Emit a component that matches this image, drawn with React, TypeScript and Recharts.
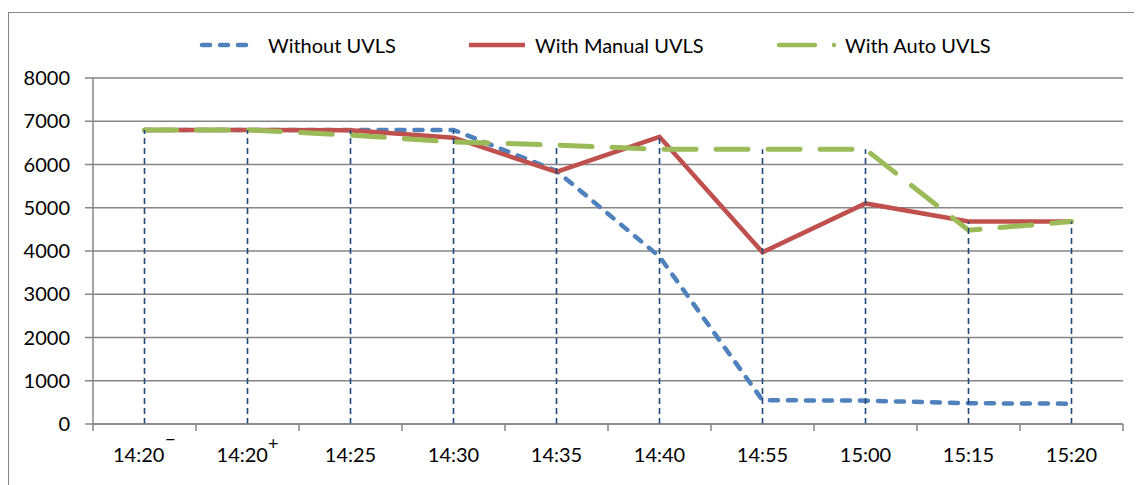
import React from 'react';
import {
  LineChart,
  Line,
  XAxis,
  YAxis,
  CartesianGrid,
  ReferenceLine,
  Legend
} from 'recharts';

// Chart data
const categories = ['14:20', '14:20', '14:25', '14:30', '14:35', '14:40', '14:55', '15:00', '15:15', '15:20'];
const categoryMarks = ['\u2013', '+', '', '', '', '', '', '', '', ''];
const withoutUvls = [6800, 6800, 6800, 6800, 5850, 3870, 550, 540, 480, 470];
const withManualUvls = [6800, 6800, 6790, 6620, 5830, 6640, 3970, 5100, 4680, 4680];
const withAutoUvls = [6800, 6800, 6680, 6520, 6450, 6350, 6350, 6350, 4480, 4680];
const yTicks = [0, 1000, 2000, 3000, 4000, 5000, 6000, 7000, 8000];

const data = categories.map((c, i) => ({
  pos: i + 0.5,
  without: withoutUvls[i],
  manual: withManualUvls[i],
  auto: withAutoUvls[i],
  top: Math.max(withoutUvls[i], withManualUvls[i], withAutoUvls[i])
}));

// boundaries carry tick marks, centres carry labels
const xTicks: number[] = [];
for (let i = 0; i <= categories.length; i++) {
  xTicks.push(i);
  if (i < categories.length) xTicks.push(i + 0.5);
}

const FONT = 'Lato, "Noto Sans", sans-serif';
const GRID = '#868686';

const XTick = (props: any) => {
  const { x, y, payload } = props;
  const v = payload.value;
  if (Number.isInteger(v)) {
    return <line x1={x} x2={x} y1={y} y2={y + 7} stroke={GRID} strokeWidth={1.5} />;
  }
  const i = Math.floor(v);
  const mark = categoryMarks[i];
  return (
    <text x={x} y={y + 38} textAnchor="middle" fill="#000" fontSize={20} fontFamily={FONT}>
      {categories[i]}
      {mark && (
        <tspan dy={mark === '+' ? -12 : -17} fontSize={mark === '+' ? 18 : 20}>{mark}</tspan>
      )}
    </text>
  );
};

const legendItems = [
  { label: 'Without UVLS', color: '#4F81BD', width: 267, icon: 56, gap: 13, dash: '8 10', cap: 'round' },
  { label: 'With Manual UVLS', color: '#C0504D', width: 310, icon: 62, gap: 7, dash: undefined, cap: 'butt' },
  { label: 'With Auto UVLS', color: '#9BBB59', width: 300, icon: 62, gap: 7, dash: '36 19 0 20', cap: 'round' }
];

const ChartLegend = () => (
  <div style={{ display: 'flex', alignItems: 'center', height: 40, paddingLeft: 190, fontFamily: FONT, fontSize: 20, color: '#000' }}>
    {legendItems.map((it) => (
      <div key={it.label} style={{ display: 'flex', alignItems: 'center', width: it.width }}>
        <svg width={it.icon} height={10} style={{ marginRight: it.gap }}>
          <line
            x1={3}
            x2={it.icon - 3}
            y1={5}
            y2={5}
            stroke={it.color}
            strokeWidth={4.5}
            strokeDasharray={it.dash}
            strokeLinecap={it.cap as any}
          />
        </svg>
        <span style={{ whiteSpace: 'nowrap' }}>{it.label}</span>
      </div>
    ))}
  </div>
);

const App = () => {
  return (
    <div style={{ paddingTop: 4 }}>
      <div style={{ borderTop: `1px solid ${GRID}`, borderLeft: `1px solid ${GRID}`, width: 1133, height: 472 }}>
        <LineChart
          width={1133}
          height={472}
          data={data}
          margin={{ top: 25, right: 19, left: 24, bottom: 21 }}
        >
          <CartesianGrid horizontal vertical={false} stroke={GRID} strokeWidth={1.5} />
          <XAxis
            dataKey="pos"
            type="number"
            domain={[0, categories.length]}
            ticks={xTicks}
            interval={0}
            tickLine={false}
            tickSize={0}
            tickMargin={0}
            tick={<XTick />}
            stroke={GRID}
            strokeWidth={1.5}
            height={40}
          />
          <YAxis
            domain={[0, 8000]}
            ticks={yTicks}
            interval={0}
            width={60}
            tickSize={8}
            tickMargin={15}
            stroke={GRID}
            strokeWidth={1.5}
            tick={{ fill: '#000', fontSize: 20, fontFamily: FONT }}
          />
          <Legend verticalAlign="top" content={<ChartLegend />} wrapperStyle={{ top: 12, left: 0, width: 1133 }} />
          <Line
            dataKey="without"
            stroke="#4F81BD"
            strokeWidth={4.5}
            strokeDasharray="8 10"
            strokeLinecap="round"
            dot={false}
            activeDot={false}
            type="linear"
            isAnimationActive={false}
          />
          <Line
            dataKey="manual"
            stroke="#C0504D"
            strokeWidth={4.5}
            dot={false}
            activeDot={false}
            type="linear"
            isAnimationActive={false}
          />
          <Line
            dataKey="auto"
            stroke="#9BBB59"
            strokeWidth={5}
            strokeDasharray="32 20"
            strokeLinecap="round"
            dot={false}
            activeDot={false}
            type="linear"
            isAnimationActive={false}
          />
          {data.map((d) => (
            <ReferenceLine
              key={d.pos}
              segment={[{ x: d.pos, y: 0 }, { x: d.pos, y: d.top }]}
              stroke="#1F497D"
              strokeWidth={1.6}
              strokeDasharray="6 4"
            />
          ))}
        </LineChart>
      </div>
    </div>
  );
};

export default App;
